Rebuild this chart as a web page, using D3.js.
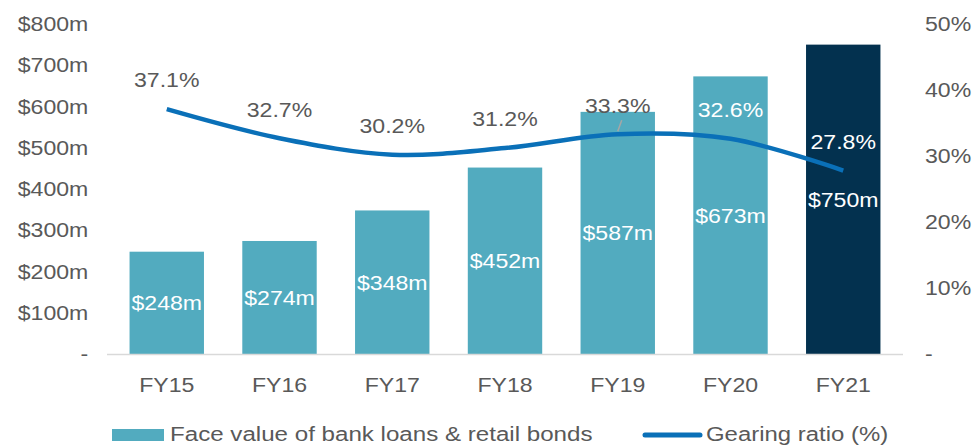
<!DOCTYPE html>
<html>
<head>
<meta charset="utf-8">
<script src="https://cdn.jsdelivr.net/npm/d3@7"></script>
<style>
  body { margin: 0; background: #fff; }
  text { font-family: "Liberation Sans", Arial, sans-serif; }
</style>
</head>
<body>
<svg width="975" height="446"></svg>
<script>
const years = ['FY15', 'FY16', 'FY17', 'FY18', 'FY19', 'FY20', 'FY21'];
const debt = [248, 274, 348, 452, 587, 673, 750];
const gearing = [37.1, 32.7, 30.2, 31.2, 33.3, 32.6, 27.8];
const debtTicks = [0, 100, 200, 300, 400, 500, 600, 700, 800];
const pctTicks = [0, 10, 20, 30, 40, 50];
const legendNames = ['Face value of bank loans & retail bonds', 'Gearing ratio (%)'];

const svg = d3.select('svg');
const teal = '#52abbf', navy = '#03314f', blue = '#0a70b8', grey = '#595959';
const sx = 1.1; // text in the original is a bit wide

const scX = d3.scaleBand().domain(years).range([107, 903])
  .paddingInner(0.34).paddingOuter(0.2);
const scY = d3.scaleLinear().domain([0, 800]).range([354, 24]);
const scP = d3.scaleLinear().domain([0, 50]).range([354, 24]);

const txt = (g, x, y, s, k = sx) => g.append('text')
  .attr('transform', `translate(${x},${y}) scale(${k},1)`)
  .attr('font-size', 21).text(s);

// axes
const styleAxis = g => {
  g.select('.domain').remove();
  g.selectAll('text').attr('font-size', 21).attr('fill', grey)
    .attr('font-family', '"Liberation Sans", Arial, sans-serif')
    .attr('transform', `scale(${sx},1)`);
};
svg.append('g').attr('transform', 'translate(107,0)')
  .call(d3.axisLeft(scY).tickValues(debtTicks).tickSize(0).tickPadding(17)
    .tickFormat(d => d === 0 ? '-' : `$${d}m`))
  .call(styleAxis);
svg.append('g').attr('transform', 'translate(903,0)')
  .call(d3.axisRight(scP).tickValues(pctTicks).tickSize(0).tickPadding(20)
    .tickFormat(d => d === 0 ? '-' : `${d}%`))
  .call(styleAxis);

// bars
const bars = svg.append('g');
bars.selectAll('rect').data(debt).enter().append('rect')
  .attr('x', (d, i) => scX(years[i]))
  .attr('width', scX.bandwidth())
  .attr('y', d => scY(d))
  .attr('height', d => scY(0) - scY(d))
  .attr('fill', (d, i) => i === years.length - 1 ? navy : teal);

svg.append('line').attr('x1', 107).attr('x2', 903)
  .attr('y1', scY(0) + 0.5).attr('y2', scY(0) + 0.5)
  .attr('stroke', '#d9d9d9').attr('stroke-width', 1.5);

debt.forEach((d, i) => {
  const cx = scX(years[i]) + scX.bandwidth() / 2;
  txt(bars, cx, (scY(d) + scY(0)) / 2, `$${d}m`)
    .attr('text-anchor', 'middle').attr('dy', '0.35em').attr('fill', '#fff');
});

// x labels
const xl = svg.append('g');
years.forEach(y => {
  txt(xl, scX(y) + scX.bandwidth() / 2, 392, y)
    .attr('text-anchor', 'middle').attr('fill', grey);
});

// gearing line
const cxOf = i => scX(years[i]) + scX.bandwidth() / 2;
const lnMkr = d3.line().curve(d3.curveCatmullRom.alpha(0.5))
  .x((d, i) => cxOf(i)).y(d => scP(d));
svg.append('path').attr('fill', 'none').attr('stroke', blue)
  .attr('stroke-width', 4.5).attr('d', lnMkr(gearing));

const gl = svg.append('g');
gearing.forEach((d, i) => {
  const ly = scP(d) - 29;
  const inside = ly > scY(debt[i]);
  txt(gl, cxOf(i), ly, `${d}%`)
    .attr('text-anchor', 'middle').attr('dy', '0.35em')
    .attr('fill', inside ? '#fff' : grey);
  if (i === 4) {
    gl.append('line').attr('x1', cxOf(i) + 4).attr('y1', ly + 15)
      .attr('x2', cxOf(i)).attr('y2', scP(d) - 3)
      .attr('stroke', '#a6a6a6').attr('stroke-width', 1.5);
  }
});

// legend
const lg = svg.append('g');
lg.append('rect').attr('x', 112).attr('y', 429).attr('width', 52).attr('height', 12)
  .attr('fill', teal);
txt(lg, 170, 441, legendNames[0], 1.15).attr('fill', grey);
lg.append('line').attr('x1', 645).attr('x2', 700).attr('y1', 435).attr('y2', 435)
  .attr('stroke', blue).attr('stroke-width', 5).attr('stroke-linecap', 'round');
txt(lg, 706, 441, legendNames[1], 1.14).attr('fill', grey);
</script>
</body>
</html>
